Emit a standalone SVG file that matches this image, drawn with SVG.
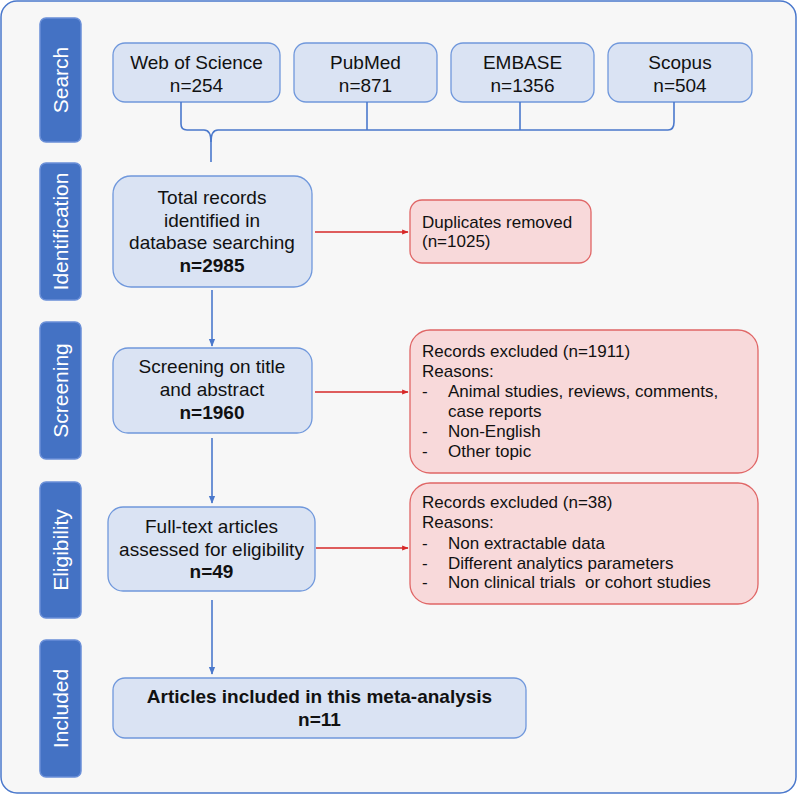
<svg xmlns="http://www.w3.org/2000/svg" width="797" height="795" viewBox="0 0 797 795">
<defs>
<style>
.t{font-family:"Liberation Sans",Arial,sans-serif;font-size:19px;fill:#111;text-anchor:middle}
.b{font-weight:bold}
.r{font-family:"Liberation Sans",Arial,sans-serif;font-size:17px;fill:#111;white-space:pre}
.side{fill:#4472c4;stroke:#6a8fd8;stroke-width:1.5}
.st{font-family:"Liberation Sans",Arial,sans-serif;font-size:21px;fill:#fff;text-anchor:middle}
.bn{fill:#dae3f3;stroke:#7098dc;stroke-width:1.3}
.rn{fill:#f8d9da;stroke:#e06666;stroke-width:1.3}
.bl{stroke:#4a78cc;stroke-width:1.6;fill:none}
.rl{stroke:#d62828;stroke-width:1.3;fill:none}
</style>
<marker id="ab" viewBox="0 0 10 10" refX="9" refY="5" markerWidth="5" markerHeight="5" orient="auto"><path d="M0,1 L10,5 L0,9 z" fill="#4a78cc"/></marker>
<marker id="ar" viewBox="0 0 10 10" refX="9" refY="5" markerWidth="5" markerHeight="5" orient="auto"><path d="M0,1 L10,5 L0,9 z" fill="#d62828"/></marker>
</defs>
<rect x="1" y="1" width="795" height="792" rx="16" fill="#f7f7f7" stroke="#4a78cc" stroke-width="1.5"/>

<g id="side-search"><rect class="side" x="40" y="18" width="41" height="124" rx="6"/><text class="st" transform="translate(68,80) rotate(-90)">Search</text></g>
<g id="side-identification"><rect class="side" x="40" y="163" width="41" height="137" rx="6"/><text class="st" transform="translate(68,231.5) rotate(-90)">Identification</text></g>
<g id="side-screening"><rect class="side" x="40" y="322" width="41" height="137" rx="6"/><text class="st" transform="translate(68,390.5) rotate(-90)">Screening</text></g>
<g id="side-eligibility"><rect class="side" x="40" y="482" width="41" height="136" rx="6"/><text class="st" transform="translate(68,550) rotate(-90)">Eligibility</text></g>
<g id="side-included"><rect class="side" x="40" y="640" width="41" height="137" rx="6"/><text class="st" transform="translate(68,708.5) rotate(-90)">Included</text></g>

<g id="wos"><rect class="bn" x="113" y="43" width="167" height="59" rx="12"/><text class="t" x="196.5" y="69">Web of Science</text><text class="t" x="196.5" y="92">n=254</text></g>
<g id="pubmed"><rect class="bn" x="294" y="43" width="143" height="59" rx="12"/><text class="t" x="365.5" y="69">PubMed</text><text class="t" x="365.5" y="92">n=871</text></g>
<g id="embase"><rect class="bn" x="451" y="43" width="143" height="59" rx="12"/><text class="t" x="522.5" y="69">EMBASE</text><text class="t" x="522.5" y="92">n=1356</text></g>
<g id="scopus"><rect class="bn" x="608" y="43" width="144" height="59" rx="12"/><text class="t" x="680" y="69">Scopus</text><text class="t" x="680" y="92">n=504</text></g>

<g id="total"><rect class="bn" x="113" y="176" width="199" height="111" rx="18"/><text class="t" x="212" y="204">Total records</text><text class="t" x="212" y="227">identified in</text><text class="t" x="212" y="249">database searching</text><text class="t b" x="212" y="272">n=2985</text></g>
<g id="screening"><rect class="bn" x="113" y="348" width="199" height="85" rx="15"/><text class="t" x="212" y="373">Screening on title</text><text class="t" x="212" y="396">and abstract</text><text class="t b" x="212" y="419">n=1960</text></g>
<g id="eligibility"><rect class="bn" x="108" y="507" width="207" height="84" rx="15"/><text class="t" x="211.5" y="533">Full-text articles</text><text class="t" x="211.5" y="556">assessed for eligibility</text><text class="t b" x="211.5" y="578">n=49</text></g>
<g id="included"><rect class="bn" x="113" y="678" width="413" height="60" rx="12"/><text class="t b" x="319.5" y="703">Articles included in this meta-analysis</text><text class="t b" x="319.5" y="726">n=11</text></g>

<g id="duplicates"><rect class="rn" x="410" y="200" width="181" height="63" rx="12"/><text class="r" x="422" y="228">Duplicates removed</text><text class="r" x="422" y="247">(n=1025)</text></g>
<g id="excluded1"><rect class="rn" x="410" y="330" width="348" height="143" rx="20"/>
<text class="r" x="422" y="357">Records excluded (n=1911)</text><text class="r" x="422" y="377">Reasons:</text>
<text class="r" x="422" y="397">-</text><text class="r" x="448" y="397">Animal studies, reviews, comments,</text>
<text class="r" x="448" y="417">case reports</text>
<text class="r" x="422" y="437">-</text><text class="r" x="448" y="437">Non-English</text>
<text class="r" x="422" y="457">-</text><text class="r" x="448" y="457">Other topic</text></g>
<g id="excluded2"><rect class="rn" x="410" y="483" width="348" height="121" rx="20"/>
<text class="r" x="422" y="508">Records excluded (n=38)</text><text class="r" x="422" y="528">Reasons:</text>
<text class="r" x="422" y="549">-</text><text class="r" x="448" y="549">Non extractable data</text>
<text class="r" x="422" y="569">-</text><text class="r" x="448" y="569">Different analytics parameters</text>
<text class="r" x="422" y="588">-</text><text class="r" x="448" y="588">Non clinical trials  or cohort studies</text></g>

<g id="connectors">
<path class="bl" d="M181,102 L181,124 Q181,130 187,130 L204,130 Q211,130 211,142 L211,162"/>
<path class="bl" d="M211,142 Q211,130 218,130 L668,130 Q674,130 674,122 L674,102"/>
<path class="bl" d="M367,102 L367,130"/>
<path class="bl" d="M520,102 L520,130"/>
<path class="bl" d="M212,290 L212,346" marker-end="url(#ab)"/>
<path class="bl" d="M212,438 L212,503" marker-end="url(#ab)"/>
<path class="bl" d="M212,600 L212,674" marker-end="url(#ab)"/>
<path class="rl" d="M315,232 L408,232" marker-end="url(#ar)"/>
<path class="rl" d="M315,392 L408,392" marker-end="url(#ar)"/>
<path class="rl" d="M316,548 L408,548" marker-end="url(#ar)"/>
</g>
</svg>
